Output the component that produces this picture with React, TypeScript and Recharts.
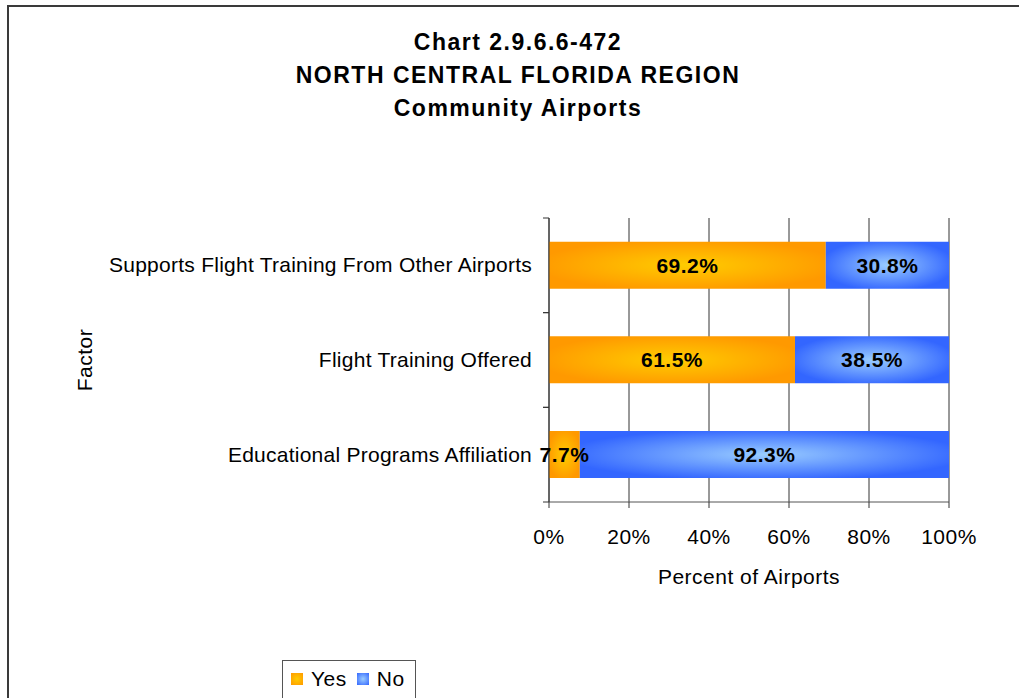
import React from "react"
import { BarChart, Bar, XAxis, YAxis, CartesianGrid, LabelList, Label } from "recharts"

const categories = [
  "Supports Flight Training From Other Airports",
  "Flight Training Offered",
  "Educational Programs Affiliation",
]
const yesValues = [69.2, 61.5, 7.7]
const noValues = [30.8, 38.5, 92.3]
const xTicks = [0, 20, 40, 60, 80, 100]
const titleLines = ["Chart 2.9.6.6-472", "NORTH CENTRAL FLORIDA REGION", "Community Airports"]

const data = categories.map((name, i) => ({ name, yes: yesValues[i], no: noValues[i] }))

const FONT = '"Liberation Sans", Arial, sans-serif'
const txt = { fontSize: 21, fill: "#000", fontFamily: FONT, letterSpacing: 0.5 }

// category tick: label text plus short tick marks at the band edges
function CategoryTick(props: any) {
  const { x, y, payload } = props
  const half = payload.offset ?? 0
  return (
    <g>
      <text
        x={x - 17}
        y={y}
        dy={7}
        textAnchor="end"
        fontSize={21}
        fill="#000"
        fontFamily={FONT}
        letterSpacing={0.25}
      >
        {payload.value}
      </text>
      <line x1={x - 6} x2={x} y1={y - half} y2={y - half} stroke="#333" />
      <line x1={x - 6} x2={x} y1={y + half} y2={y + half} stroke="#333" />
    </g>
  )
}

function LegendBox() {
  const sw = (bg: string) => ({
    display: "inline-block",
    width: 12,
    height: 12,
    background: bg,
    marginRight: 8,
    verticalAlign: "middle",
  })
  return (
    <div
      style={{
        position: "absolute",
        left: 282,
        top: 660,
        border: "1px solid #555",
        width: 134,
        height: 45,
        boxSizing: "border-box",
        padding: "5px 0 0 8px",
        fontFamily: FONT,
        fontSize: 21,
        letterSpacing: 0.5,
        color: "#000",
        whiteSpace: "nowrap",
      }}
    >
      <span style={sw("radial-gradient(#FFCC00, #FF9900)")} />
      <span style={{ marginRight: 10, verticalAlign: "middle" }}>Yes</span>
      <span style={sw("radial-gradient(#99CCFF, #3366FF)")} />
      <span style={{ verticalAlign: "middle" }}>No</span>
    </div>
  )
}

export default function App() {
  return (
    <div style={{ position: "absolute", left: 0, top: 0, width: 1019, height: 698, overflow: "hidden", background: "#fff" }}>
      <div
        style={{
          position: "absolute",
          left: 7,
          top: 5,
          width: 1100,
          height: 800,
          borderTop: "2px solid #3a3a3a",
          borderLeft: "2px solid #3a3a3a",
        }}
      />
      <div
        style={{
          position: "absolute",
          left: 18,
          top: 26,
          width: 1000,
          textAlign: "center",
          fontFamily: FONT,
          fontWeight: "bold",
          fontSize: 23,
          letterSpacing: 1.5,
          lineHeight: "33px",
          color: "#000",
        }}
      >
        {titleLines.map((t) => (
          <div key={t}>{t}</div>
        ))}
      </div>
      <div style={{ position: "absolute", left: 0, top: 0 }}>
        <BarChart
          width={1019}
          height={698}
          data={data}
          layout="vertical"
          margin={{ top: 218, right: 70, bottom: 126, left: 9 }}
          barCategoryGap="25%"
        >
          <defs>
            <radialGradient id="gYes" cx="50%" cy="50%" r="55%">
              <stop offset="0%" stopColor="#FFCC00" />
              <stop offset="100%" stopColor="#FF9900" />
            </radialGradient>
            <radialGradient id="gNo" cx="50%" cy="50%" r="55%">
              <stop offset="0%" stopColor="#99CCFF" />
              <stop offset="100%" stopColor="#3366FF" />
            </radialGradient>
          </defs>
          <CartesianGrid horizontal={false} stroke="#333" />
          <XAxis
            type="number"
            domain={[0, 100]}
            ticks={xTicks}
            tickFormatter={(v) => `${v}%`}
            axisLine={{ stroke: "#555" }}
            tickLine={{ stroke: "#333" }}
            tickSize={6}
            tickMargin={21}
            height={70}
            tick={txt}
          >
            <Label value="Percent of Airports" position="insideBottom" offset={-12} style={txt} />
          </XAxis>
          <YAxis
            type="category"
            dataKey="name"
            width={540}
            axisLine={{ stroke: "#333" }}
            tickLine={false}
            tickSize={0}
            tickMargin={0}
            tick={<CategoryTick />}
          >
            <Label
              value="Factor"
              angle={-90}
              position="insideLeft"
              offset={76}
              style={{ ...txt, textAnchor: "middle" }}
            />
          </YAxis>
          <Bar dataKey="yes" name="Yes" stackId="a" fill="url(#gYes)" isAnimationActive={false}>
            <LabelList
              dataKey="yes"
              position="center"
              formatter={(v: any) => `${Number(v).toFixed(1)}%`}
              style={{ ...txt, fontWeight: "bold" }}
            />
          </Bar>
          <Bar dataKey="no" name="No" stackId="a" fill="url(#gNo)" isAnimationActive={false}>
            <LabelList
              dataKey="no"
              position="center"
              formatter={(v: any) => `${Number(v).toFixed(1)}%`}
              style={{ ...txt, fontWeight: "bold" }}
            />
          </Bar>
        </BarChart>
      </div>
      <LegendBox />
    </div>
  )
}
